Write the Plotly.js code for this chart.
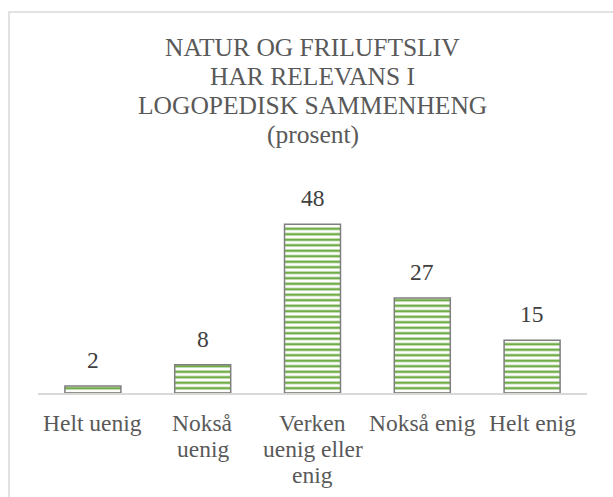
<!DOCTYPE html>
<html>
<head>
<meta charset="utf-8">
<script src="https://cdn.plot.ly/plotly-3.0.1.min.js"></script>
<style>html,body{margin:0;padding:0;background:#fff;}#chart{width:613px;height:497px;}</style>
</head>
<body>
<div id="chart"></div>
<script>
const categories = ["Helt uenig", "Nokså uenig", "Verken uenig eller enig", "Nokså enig", "Helt enig"];
const tickLabels = ["Helt uenig", "Nokså<br>uenig", "Verken<br>uenig eller<br>enig", "Nokså enig", "Helt enig"];
const values = [2, 8, 48, 27, 15];
const titleLines = ["NATUR OG FRILUFTSLIV", "HAR RELEVANS I", "LOGOPEDISK SAMMENHENG", "(prosent)"];

const W = 613, H = 497;
const M = {l: 38, r: 26, t: 182, b: 104};
const plotH = H - M.t - M.b, plotW = W - M.l - M.r;
const py = p => (H - M.b - p) / plotH;   // pixel y -> paper y
const px = p => (p - M.l) / plotW;       // pixel x -> paper x

const serif = "Liberation Serif, Times New Roman, serif";
const titleY = [47.6, 76.6, 105.1, 134.1];

const annotations = [];
titleLines.forEach((t, i) => annotations.push({
  text: t, xref: 'paper', yref: 'paper', x: 0.5, y: py(titleY[i]),
  xanchor: 'center', yanchor: 'middle', showarrow: false,
  font: {family: serif, size: 25.5, color: '#595959'}
}));
values.forEach((v, i) => annotations.push({
  text: String(v), x: categories[i], y: v, xref: 'x', yref: 'y',
  xanchor: 'center', yanchor: 'bottom', yshift: 11, showarrow: false,
  font: {family: serif, size: 23.5, color: '#404040'}
}));
// category labels on the x axis, one line at a time (tight Excel-like line spacing)
tickLabels.forEach((lbl, i) => lbl.split('<br>').forEach((line, k) => annotations.push({
  text: line, x: categories[i], xref: 'x', yref: 'paper', y: py(422.5 + 26 * k),
  xanchor: 'center', yanchor: 'middle', showarrow: false,
  font: {family: serif, size: 23.5, color: '#595959'}
})));

const trace = {
  type: 'bar', x: categories, y: values,
  marker: {
    color: '#ffffff',
    pattern: {shape: '-', fgcolor: '#70AD47', bgcolor: '#ffffff', size: 5.5, solidity: 0.45, fillmode: 'replace'},
    line: {color: '#7f7f7f', width: 1.5}
  },
  hoverinfo: 'x+y'
};

const layout = {
  width: W, height: H,
  margin: M,
  font: {family: serif},
  paper_bgcolor: '#ffffff', plot_bgcolor: '#ffffff',
  showlegend: false,
  bargap: 0.49,
  xaxis: {
    type: 'category', tickvals: categories, ticktext: tickLabels,
    showticklabels: false,
    showline: true, linecolor: '#d9d9d9', linewidth: 1.5,
    ticks: '', showgrid: false, zeroline: false,
    fixedrange: true
  },
  yaxis: {range: [0, 60], visible: false, showgrid: false, zeroline: false, fixedrange: true},
  annotations: annotations,
  shapes: [{
    type: 'rect', xref: 'paper', yref: 'paper',
    x0: px(9), x1: px(640), y0: py(12), y1: py(530),
    line: {color: '#d9d9d9', width: 1.5}, fillcolor: 'rgba(0,0,0,0)', layer: 'below'
  }]
};

Plotly.newPlot('chart', [trace], layout, {displayModeBar: false, staticPlot: true});
</script>
</body>
</html>
